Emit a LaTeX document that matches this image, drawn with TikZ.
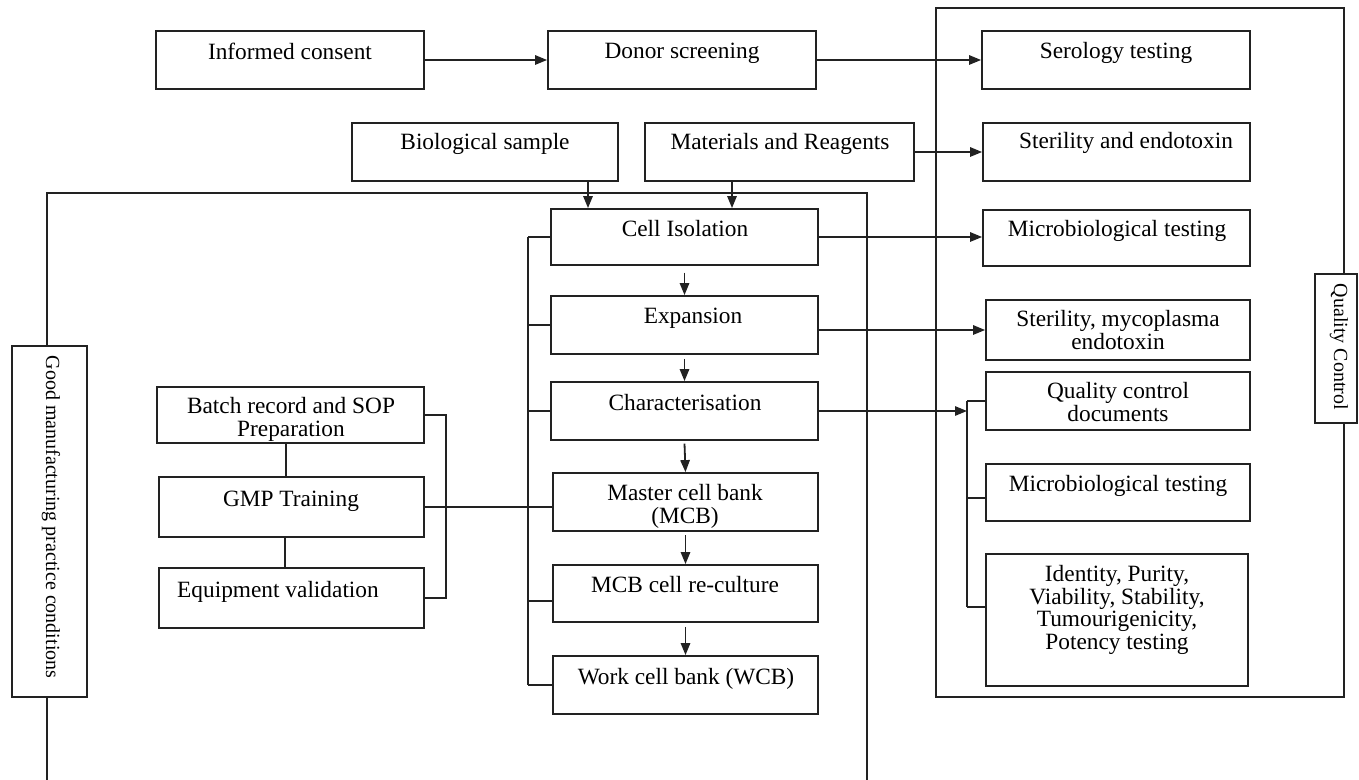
\documentclass[tikz,border=0pt]{standalone}
\usepackage{fontspec}
\setmainfont{Liberation Serif}
\usetikzlibrary{arrows.meta,calc}
\definecolor{lncol}{HTML}{222222}
\newcommand{\bx}[5]{%
  \pgfmathsetmacro{\bw}{(#4-#2)*0.75}\pgfmathsetmacro{\bh}{(#5-#3)*0.75}%
  \node[bx, minimum width=\bw pt, minimum height=\bh pt] (#1) at ({(#2+#4)/2},{(#3+#5)/2}) {};}
\begin{document}
\begin{tikzpicture}[x=0.75pt,y=-0.75pt,
  ln/.style={draw=lncol, line width=1.35pt},
  bx/.style={ln, fill=white, inner sep=0pt, rectangle},
  arr/.style={ln, -{Triangle[length=9pt,width=7pt]}},
  txt/.style={anchor=north, inner sep=0pt, align=center, font=\fontsize{17.5}{17}\selectfont},
  vtxt/.style={inner sep=0pt, rotate=-90, font=\fontsize{15}{16}\selectfont}]
\fill[white] (0,0) rectangle (1359,780);
\useasboundingbox (0,0) rectangle (1359,780);

% outer GMP frame
\draw[ln] (47,780) -- (47,193) -- (867,193) -- (867,780);
\bx{gmpl}{12}{346}{87}{697}
\node[vtxt] (gmpl-t) at (51,517) {Good manufacturing practice conditions};

% outer QC frame
\bx{qc}{936}{8}{1344}{697}
\bx{qcl}{1315}{274}{1357}{423}
\node[vtxt] (qcl-t) at (1339,347) {Quality Control};

% top row
\bx{ic}{156}{31}{424}{89}
\node[txt] (ic-t) at (290,43) {Informed consent};
\bx{ds}{548}{31}{816}{89}
\node[txt] (ds-t) at (682,43) {Donor screening};
\bx{bio}{352}{123}{618}{181}
\node[txt] (bio-t) at (485,133) {Biological sample};
\bx{mat}{645}{123}{914}{181}
\node[txt] (mat-t) at (780,133) {Materials and Reagents};

% right column
\bx{ser}{982}{31}{1250}{89}
\node[txt] (ser-t) at (1116,42) {Serology testing};
\bx{ste}{983}{123}{1250}{181}
\node[txt] (ste-t) at (1126,132) {Sterility and endotoxin};
\bx{mic}{983}{210}{1250}{266}
\node[txt] (mic-t) at (1117,220) {Microbiological testing};
\bx{smy}{986}{300}{1250}{360}
\node[txt] (smy-t) at (1118,310) {Sterility, mycoplasma\\endotoxin};
\bx{qcd}{986}{372}{1250}{430}
\node[txt] (qcd-t) at (1118,382) {Quality control\\documents};
\bx{mic2}{986}{464}{1250}{521}
\node[txt] (mic2-t) at (1118,475) {Microbiological testing};
\bx{idt}{986}{554}{1248}{686}
\node[txt] (idt-t) at (1117,565) {Identity, Purity,\\Viability, Stability,\\Tumourigenicity,\\Potency testing};

% centre column
\bx{ci}{551}{209}{818}{265}
\node[txt] (ci-t) at (685,220) {Cell Isolation};
\bx{exp}{551}{296}{818}{354}
\node[txt] (exp-t) at (693,308) {Expansion};
\bx{chr}{551}{382}{818}{440}
\node[txt] (chr-t) at (685,394) {Characterisation};
\bx{mcb}{553}{473}{818}{531}
\node[txt] (mcb-t) at (685,484) {Master cell bank\\(MCB)};
\bx{rec}{553}{565}{818}{622}
\node[txt] (rec-t) at (685,576) {MCB cell re-culture};
\bx{wcb}{553}{656}{818}{714}
\node[txt] (wcb-t) at (686,668) {Work cell bank (WCB)};

% left column
\bx{bat}{157}{387}{424}{443}
\node[txt] (bat-t) at (291,397) {Batch record and SOP\\Preparation};
\bx{gtr}{159}{477}{424}{537}
\node[txt] (gtr-t) at (291,491) {GMP Training};
\bx{eqv}{159}{568}{424}{628}
\node[txt] (eqv-t) at (278,581) {Equipment validation};

% helper coordinates
\coordinate (xb) at (588,0);
\coordinate (xm) at (732,0);
\coordinate (cb) at (528,0);
\coordinate (lb) at (446,0);
\coordinate (xv1) at (286,0);
\coordinate (xv2) at (285,0);
\coordinate (rt) at (0,601);
\coordinate (q1) at (967,401);
\coordinate (q2) at (967,498);
\coordinate (q3) at (967,607);

% top connectors
\draw[arr] (ic.east) -- (ds.west);
\draw[arr] (ds.east) -- (ds.east -| ser.west);
\draw[arr] (mat.east) -- (ste.west);
\draw[arr] (bio.south -| xb) -- (ci.north -| xb);
\draw[arr] (mat.south -| xm) -- (ci.north -| xm);

% centre to QC
\draw[arr] (ci.east) -- (ci.east -| mic.west);
\draw[arr] (exp.east |- smy.west) -- (smy.west);
\draw[arr] (chr.east) -- (chr.east -| q1);
\draw[ln] (q1) -- (q3);
\draw[ln] (q1) -- (q1 -| qcd.west);
\draw[ln] (q2) -- (q2 -| mic2.west);
\draw[ln] (q3) -- (q3 -| idt.west);

% centre column flow
\draw[arr] ([yshift=-5pt]ci.south) -- (exp.north);
\draw[arr] ([yshift=-3pt]exp.south) -- (chr.north);
\draw[arr] ([yshift=-2pt]chr.south) -- (mcb.north);
\draw[arr] ([yshift=-2.5pt]mcb.south) -- (rec.north);
\draw[arr] ([yshift=-3pt]rec.south) -- (wcb.north);

% centre left bracket
\draw[ln] (ci.west -| cb) -- (wcb.west -| cb);
\draw[ln] (ci.west -| cb) -- (ci.west);
\draw[ln] (exp.west -| cb) -- (exp.west);
\draw[ln] (chr.west -| cb) -- (chr.west);
\draw[ln] (cb |- rt) -- (rec.west |- rt);
\draw[ln] (wcb.west -| cb) -- (wcb.west);

% left group
\draw[ln] (bat.south -| xv1) -- (gtr.north -| xv1);
\draw[ln] (gtr.south -| xv2) -- (eqv.north -| xv2);
\draw[ln] (bat.east) -- (bat.east -| lb) -- (eqv.east -| lb) -- (eqv.east);
\draw[ln] (gtr.east) -- (gtr.east -| mcb.west);
\end{tikzpicture}
\end{document}
